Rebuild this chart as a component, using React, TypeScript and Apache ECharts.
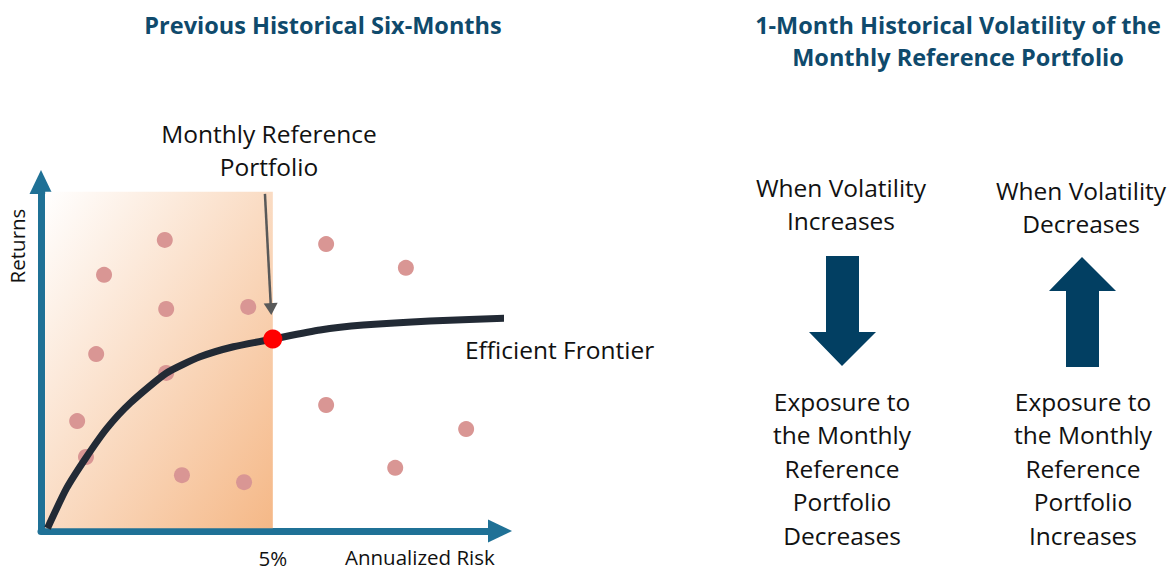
import React, { useEffect, useRef } from "react";
import * as echarts from "echarts";

// ---- data (risk in %, returns in arbitrary units) ----
const assetRisk = [2.67, 1.36, 2.70, 4.47, 1.19, 2.70, 0.78, 0.97, 3.04, 4.38, 6.15, 7.87, 6.15, 9.17, 7.64];
const assetReturn = [8.34, 7.34, 6.36, 6.42, 5.07, 4.53, 3.15, 2.12, 1.60, 1.40, 8.22, 7.54, 3.61, 2.92, 1.81];

const frontierRisk = [0.14, 0.55, 0.97, 1.42, 1.92, 2.70, 3.43, 4.15, 5.0, 6.02, 6.95, 8.39, 10.16];
const frontierReturn = [0.08, 1.22, 2.10, 2.94, 3.66, 4.52, 4.99, 5.28, 5.5, 5.76, 5.9, 6.02, 6.1];

const referenceRisk = 5.0;
const referenceReturn = 5.5;
const xTickLabels = [5];

const shadedRiskRange = [0.09, 5.0];
const shadedReturnRange = [0.08, 9.72];

const annotationStart = [4.83, 9.66];
const annotationEnd = [4.96, 6.36];

const leftTitle = "Previous Historical Six-Months";
const rightTitle = "1-Month Historical Volatility of the\nMonthly Reference Portfolio";
const increaseHeader = "When Volatility\nIncreases";
const decreaseHeader = "When Volatility\nDecreases";
const decreaseOutcome = "Exposure to\nthe Monthly\nReference\nPortfolio\nDecreases";
const increaseOutcome = "Exposure to\nthe Monthly\nReference\nPortfolio\nIncreases";

const FONT = "'Open Sans', 'Noto Sans', sans-serif";
const TITLE_COLOR = "#0F4A6C";
const ARROW_COLOR = "#023F62";
const AXIS_COLOR = "#1F7196";

export default function App() {
  const ref = useRef<HTMLDivElement>(null);

  useEffect(() => {
    if (!ref.current) return;
    const chart = echarts.init(ref.current, undefined, { renderer: "svg" });

    const text = (
      t: string,
      x: number,
      y: number,
      size: number,
      opts: any = {}
    ) => ({
      type: "text",
      x,
      y,
      rotation: opts.rotation || 0,
      silent: true,
      style: {
        text: t,
        fill: opts.fill || "#111111",
        fontSize: size,
        fontFamily: FONT,
        fontWeight: opts.weight || "normal",
        align: opts.align || "center",
        verticalAlign: "middle",
        lineHeight: opts.lineHeight || size * 1.15,
      },
    });

    const option: any = {
      animation: false,
      backgroundColor: "#ffffff",
      grid: { left: 41, top: 182, width: 459, height: 349, containLabel: false },
      xAxis: {
        type: "value",
        min: 0,
        max: 9.9,
        splitLine: { show: false },
        axisTick: { show: false },
        axisLine: {
          show: true,
          symbol: ["none", "triangle"],
          symbolSize: [23, 24],
          lineStyle: { color: AXIS_COLOR, width: 7 },
        },
        axisLabel: {
          customValues: xTickLabels,
          formatter: "{value}%",
          color: "#111111",
          fontSize: 20.5,
          fontFamily: FONT,
          margin: 16,
        },
      },
      yAxis: {
        type: "value",
        min: 0,
        max: 10,
        splitLine: { show: false },
        axisTick: { show: false },
        axisLabel: { show: false },
        axisLine: {
          show: true,
          symbol: ["none", "triangle"],
          symbolSize: [23, 24],
          lineStyle: { color: AXIS_COLOR, width: 7 },
        },
      },
      series: [
        {
          name: "Shaded",
          type: "scatter",
          data: [],
          z: 1,
          silent: true,
          markArea: {
            silent: true,
            itemStyle: {
              color: new echarts.graphic.LinearGradient(0, 0, 1, 1, [
                { offset: 0, color: "#FFFFFF" },
                { offset: 1, color: "#F5B887" },
              ]),
            },
            data: [
              [
                { xAxis: shadedRiskRange[0], yAxis: shadedReturnRange[0] },
                { xAxis: shadedRiskRange[1], yAxis: shadedReturnRange[1] },
              ],
            ],
          },
        },
        {
          name: "Assets",
          type: "scatter",
          z: 3,
          symbolSize: 16,
          itemStyle: { color: "#D99694", opacity: 1 },
          data: assetRisk.map((x, i) => [x, assetReturn[i]]),
        },
        {
          name: "Efficient Frontier",
          type: "line",
          z: 4,
          smooth: 0.2,
          showSymbol: false,
          clip: false,
          lineStyle: { color: "#222A35", width: 7 },
          data: frontierRisk.map((x, i) => [x, frontierReturn[i]]),
        },
        {
          name: "Monthly Reference Portfolio",
          type: "scatter",
          z: 5,
          symbolSize: 19,
          itemStyle: { color: "#FF0000", opacity: 1 },
          data: [[referenceRisk, referenceReturn]],
          markLine: {
            silent: true,
            symbol: ["none", "triangle"],
            symbolSize: [14, 12],
            label: { show: false },
            lineStyle: { color: "#595959", width: 2.5, type: "solid" },
            data: [[{ coord: annotationStart }, { coord: annotationEnd }]],
          },
        },
      ],
      graphic: [
        text(leftTitle, 323, 25, 23.5, { fill: TITLE_COLOR, weight: "bold" }),
        text(rightTitle, 958, 41, 23.5, { fill: TITLE_COLOR, weight: "bold", lineHeight: 32 }),
        text("Monthly Reference\nPortfolio", 269, 150, 24.5, { lineHeight: 33 }),
        text("Efficient Frontier", 465, 349, 24.5, { align: "left" }),
        text("Returns", 17, 246, 20.5, { rotation: Math.PI / 2 }),
        text("Annualized Risk", 345, 557, 20.5, { align: "left" }),
        text(increaseHeader, 841, 204, 24.5, { lineHeight: 33 }),
        text(decreaseHeader, 1081, 207, 24.5, { lineHeight: 33 }),
        text(decreaseOutcome, 842, 468, 24.5, { lineHeight: 33.5 }),
        text(increaseOutcome, 1083, 468, 24.5, { lineHeight: 33.5 }),
        {
          type: "polygon",
          silent: true,
          shape: {
            points: [
              [826, 256], [859, 256], [859, 332], [876, 332], [842, 366], [809, 332], [826, 332],
            ],
          },
          style: { fill: ARROW_COLOR },
        },
        {
          type: "polygon",
          silent: true,
          shape: {
            points: [
              [1082, 257], [1116, 291], [1099, 291], [1099, 367], [1066, 367], [1066, 291], [1049, 291],
            ],
          },
          style: { fill: ARROW_COLOR },
        },
      ],
    };

    chart.setOption(option);
    return () => chart.dispose();
  }, []);

  return (
    <div
      ref={ref}
      style={{ position: "fixed", left: 0, top: 0, width: 1175, height: 571, background: "#fff" }}
    />
  );
}
